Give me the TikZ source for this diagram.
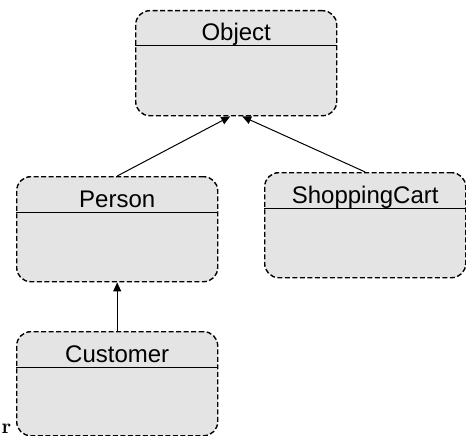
\documentclass[tikz,border=0pt]{standalone}
\usepackage{fontspec}
\setsansfont{Liberation Sans}
\usetikzlibrary{arrows.meta}
\definecolor{boxfill}{RGB}{228,228,228}
\begin{document}
\begin{tikzpicture}[x=1pt,y=-1pt,
  classbox/.style={draw, dash pattern=on 5pt off 2.5pt, line width=1.4pt,
    rounded corners=14pt, fill=boxfill, minimum width=201pt, minimum height=105pt,
    inner sep=0pt, anchor=north west},
  classname/.style={font=\sffamily\fontsize{24}{24}\selectfont, anchor=base, inner sep=0pt},
  divider/.style={line width=1pt},
  inherit/.style={-{Triangle[length=9pt,width=8pt]}, line width=1pt}]
\useasboundingbox (0,0) rectangle (466,436);
\node[classbox] (obj) at (135,10) {};
\node[classbox] (per) at (16,176) {};
\node[classbox] (sc) at (264,172) {};
\node[classbox, minimum height=104pt] (cus) at (16,331) {};
\foreach \b/\t in {obj/Object, per/Person, sc/ShoppingCart, cus/Customer}{
  \draw[divider] ([yshift=-36pt]\b.north west) -- ([yshift=-36pt]\b.north east);
  \node[classname] (\b t) at ([yshift=-31pt]\b.north) {\t};
}
\coordinate (objL) at ([xshift=-6pt]obj.south);
\coordinate (objR) at ([xshift=6pt]obj.south);
\draw[inherit] (per.north) -- (objL);
\draw[inherit] (sc.north) -- (objR);
\draw[inherit] (cus.north) -- (per.south);
\node[font=\bfseries\fontsize{21}{21}\selectfont, anchor=base west, inner sep=0pt] (rr) at (1.5,433.5) {r};
\end{tikzpicture}
\end{document}
